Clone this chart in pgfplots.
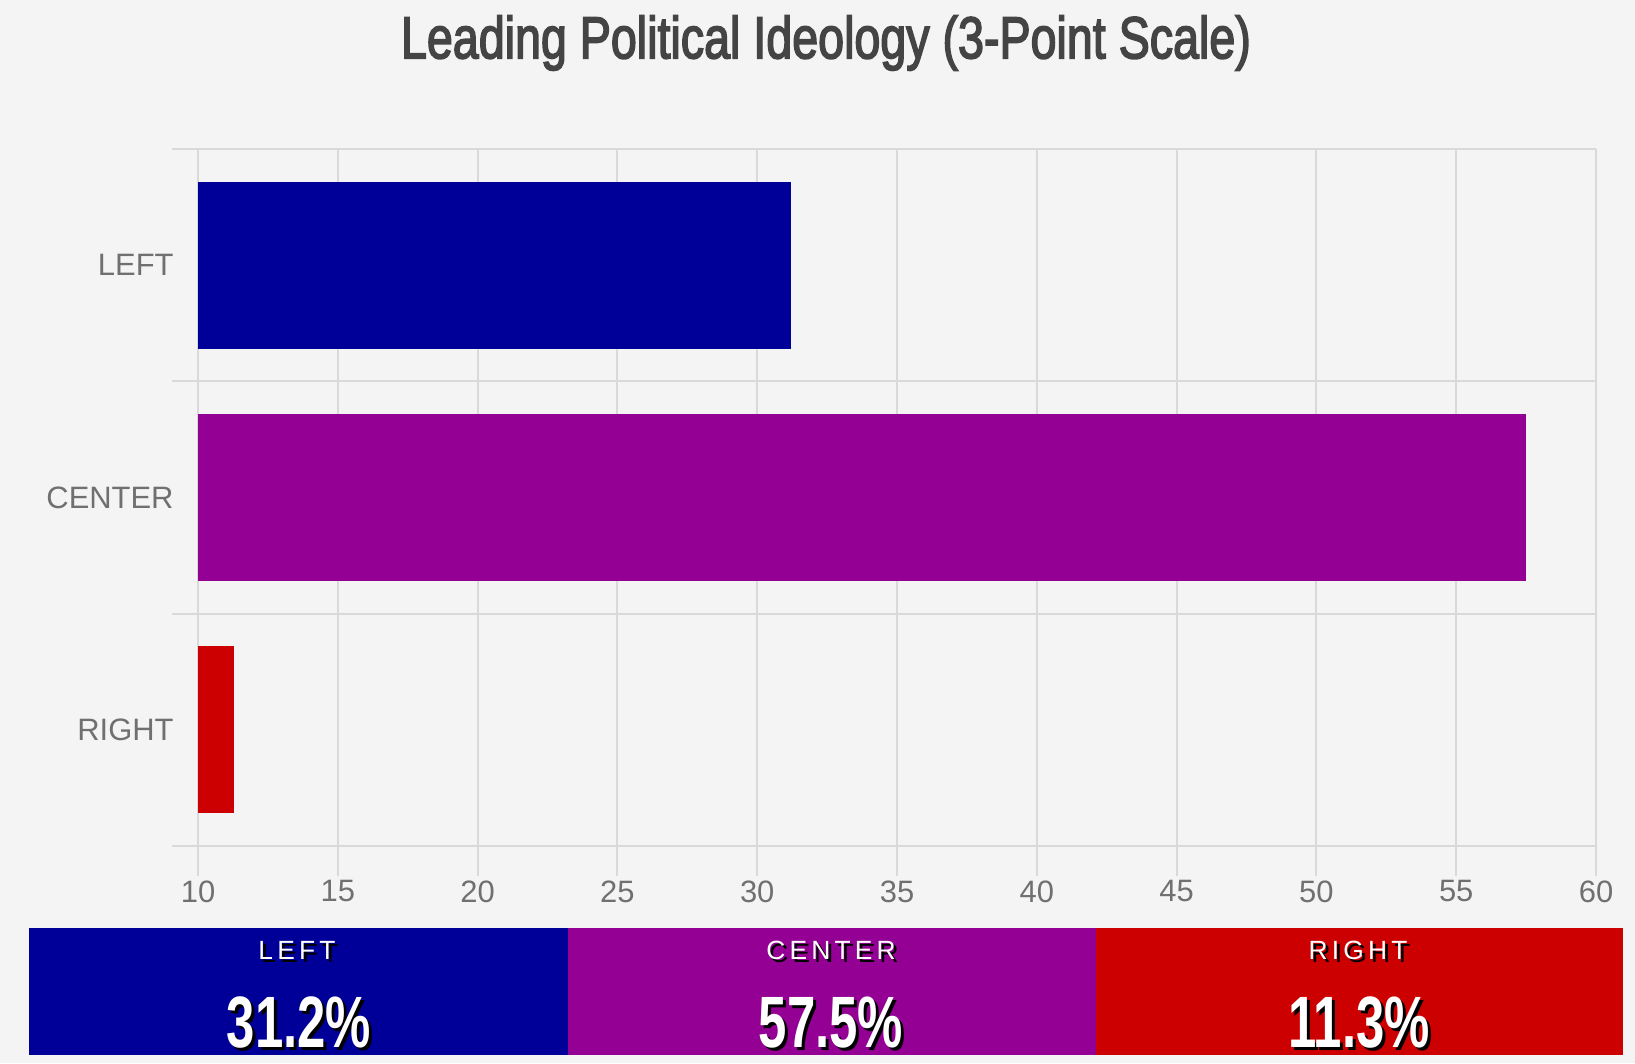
\documentclass[border=0pt]{standalone}
\usepackage{pgfplots}
\pgfplotsset{compat=1.18}
\usepackage{fontspec}
\setmainfont{Liberation Sans}
\newfontfamily\spaced[LetterSpace=16]{Liberation Sans}
\newfontfamily\titlefont[FakeBold=3]{Liberation Sans}
\usepackage{graphicx}
\definecolor{bg}{HTML}{F4F4F4}
\definecolor{gridc}{HTML}{D9D9D9}
\definecolor{tickc}{HTML}{707070}
\definecolor{titlec}{HTML}{444444}
\definecolor{cleft}{HTML}{000099}
\definecolor{ccenter}{HTML}{950094}
\definecolor{cright}{HTML}{CC0000}
\newcommand{\stxt}[3]{%
  \node[text=black, inner sep=0pt] at (#1+0.3,#2-0.3) {#3};
  \node[text=white, inner sep=0pt] at (#1,#2) {#3};}
\begin{document}
\begin{tikzpicture}[x=1mm,y=1mm]
\fill[bg] (0,0) rectangle (163.5,106.3);
\begin{axis}[at={(19.8mm,21.7mm)}, anchor=south west, scale only axis,
  width=139.8mm, height=69.7mm,
  xbar, bar width=0.72, bar shift=0pt,
  xmin=10, xmax=60, ymin=-0.5, ymax=2.5,
  xtick={10,15,...,60}, ytick={0,1,2}, yticklabels={RIGHT,CENTER,LEFT},
  minor ytick={-0.5,0.5,1.5,2.5},
  xtick pos=left, ytick pos=left,
  xmajorgrids, yminorgrids,
  major grid style={draw=gridc, line width=0.6pt},
  minor grid style={draw=gridc, line width=0.6pt},
  axis line style={draw=none},
  tick align=outside,
  major tick length=3mm, minor tick length=2.6mm,
  major x tick style={draw=gridc, line width=0.6pt},
  major y tick style={draw=none},
  minor y tick style={draw=gridc, line width=0.6pt},
  /pgf/number format/assume math mode=true,
  tick label style={font=\fontsize{8.8}{10}\selectfont, text=tickc},
  xticklabel style={yshift=0.8mm},
  yticklabel style={xshift=1.8mm},
]
\addplot[fill=cleft, draw=none] coordinates {(31.2,2)};
\addplot[fill=ccenter, draw=none] coordinates {(57.5,1)};
\addplot[fill=cright, draw=none] coordinates {(11.3,0)};
\end{axis}
\node[text=titlec] at (82.6,102.0) {\resizebox{85mm}{\height}{\titlefont\fontsize{16.8}{20}\selectfont Leading Political Ideology (3-Point Scale)}};
\fill[cleft] (2.92,0.8) rectangle (56.83,13.5);
\fill[ccenter] (56.83,0.8) rectangle (109.59,13.5);
\fill[cright] (109.59,0.8) rectangle (162.25,13.5);
\stxt{29.7}{11.3}{\spaced\fontsize{7.5}{9}\selectfont LEFT}
\stxt{83.1}{11.3}{\spaced\fontsize{7.5}{9}\selectfont CENTER}
\stxt{135.8}{11.3}{\spaced\fontsize{7.5}{9}\selectfont RIGHT}
\stxt{29.9}{4.0}{\scalebox{0.7}[1]{\bfseries\fontsize{20.7}{24}\selectfont 31.2\%}}
\stxt{83.1}{4.0}{\scalebox{0.7}[1]{\bfseries\fontsize{20.7}{24}\selectfont 57.5\%}}
\stxt{135.9}{4.0}{\scalebox{0.7}[1]{\bfseries\fontsize{20.7}{24}\selectfont 11.3\%}}
\end{tikzpicture}
\end{document}
